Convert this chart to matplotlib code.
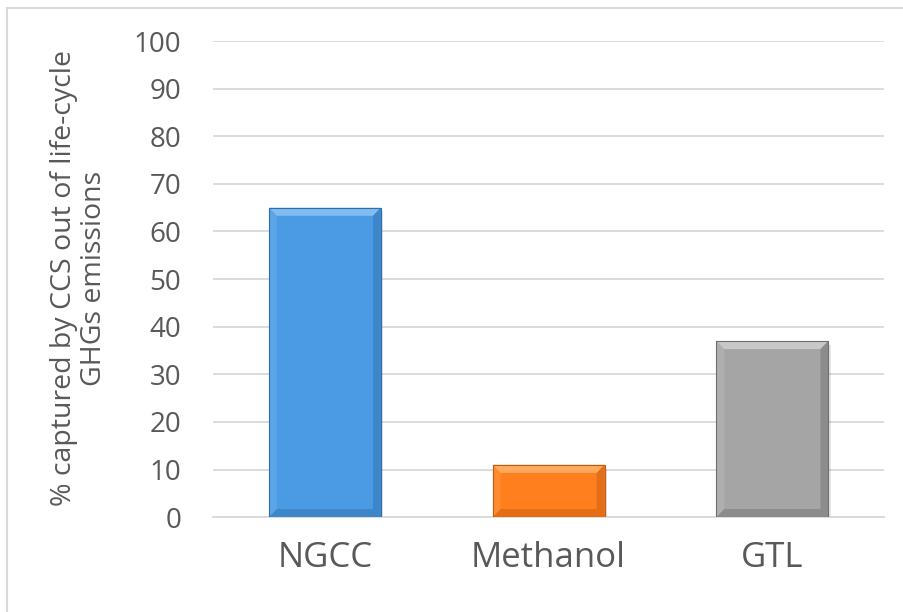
import matplotlib.pyplot as plt
from matplotlib.patches import Rectangle, Polygon

categories = ['NGCC', 'Methanol', 'GTL']
captured = [65, 11, 37]
bar_colors = ['#4A9BE3', '#FF7F1F', '#A5A5A5']
edge_colors = ['#2E6EAA', '#C45A0E', '#6E6E6E']
light_colors = ['#8CC4F4', '#FFB26A', '#CFCFCF']
yticks = list(range(0, 101, 10))

plt.rcParams['font.family'] = ['Open Sans', 'DejaVu Sans']
text_color = '#595959'

fig = plt.figure(figsize=(9.04, 6.12), dpi=100)
ax = fig.add_axes([0.2356, 0.155, 0.7425, 0.778])

# chart frame
fig.patches.append(Rectangle((7 / 904, -0.1), 1.2, 1 - 8 / 612 + 0.1,
                             transform=fig.transFigure, fill=False,
                             edgecolor='#D9D9D9', linewidth=1.5))

x = range(len(categories))
width = 0.5
bars = ax.bar(x, captured, width=width, color=bar_colors, zorder=3)

# bevel: light top edge, dark right / bottom edges, soft drop shadow
bx, by = 0.035, 1.7
for b, ec, lc in zip(bars, edge_colors, light_colors):
    x0, w, h = b.get_x(), b.get_width(), b.get_height()
    x1 = x0 + w
    ax.add_patch(Rectangle((x0 + 0.01, -0.8), w, h, color='#000000',
                           alpha=0.10, zorder=2, linewidth=0))
    ax.add_patch(Polygon([(x0, h), (x1, h), (x1 - bx, h - by), (x0 + bx, h - by)],
                         color=lc, alpha=0.85, zorder=4, linewidth=0))
    ax.add_patch(Polygon([(x1, h), (x1, 0), (x1 - bx, by), (x1 - bx, h - by)],
                         color=ec, alpha=0.45, zorder=4, linewidth=0))
    ax.add_patch(Polygon([(x0, 0), (x1, 0), (x1 - bx, by), (x0 + bx, by)],
                         color=ec, alpha=0.45, zorder=4, linewidth=0))
    ax.add_patch(Polygon([(x0, 0), (x0, h), (x0 + bx, h - by), (x0 + bx, by)],
                         color=lc, alpha=0.25, zorder=4, linewidth=0))
    ax.add_patch(Rectangle((x0, 0), w, h, fill=False, edgecolor=ec,
                           linewidth=0.8, zorder=5))

ax.set_xlim(-0.5, 2.5)
ax.set_ylim(0, 100)
ax.set_yticks(yticks)
ax.set_xticks(list(x))
ax.set_xticklabels(categories, fontsize=25, color=text_color)
ax.tick_params(axis='y', labelsize=20, colors=text_color, length=0, pad=23)
ax.tick_params(axis='x', length=0, pad=17)
ax.yaxis.grid(True, color='#D9D9D9', linewidth=1.3, zorder=0)
for s in ['top', 'right', 'left']:
    ax.spines[s].set_visible(False)
ax.spines['bottom'].set_color('#D9D9D9')
ax.spines['bottom'].set_linewidth(1.3)

fig.text(79 / 904, 1 - 278 / 612,
         '% captured by CCS out of life-cycle\nGHGs emissions',
         rotation=90, ha='center', va='center', multialignment='center',
         fontsize=20.5, color=text_color, linespacing=1.1)

fig.savefig('out.png', dpi=100)
